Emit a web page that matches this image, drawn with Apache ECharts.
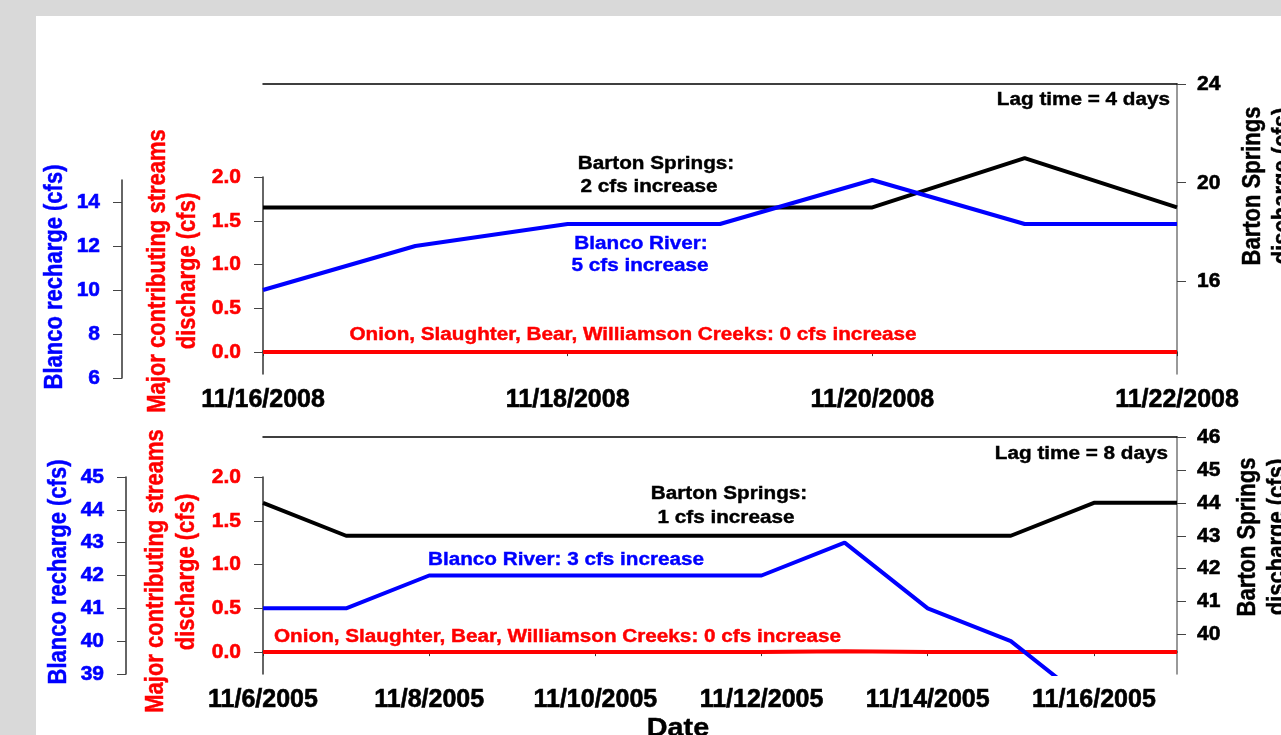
<!DOCTYPE html>
<html>
<head>
<meta charset="utf-8">
<script src="https://cdn.jsdelivr.net/npm/echarts@6/dist/echarts.min.js"></script>
<style>
  html, body { margin: 0; padding: 0; background: #d9d9d9; }
  #panel { position: absolute; left: 36px; top: 16px; width: 1245px; height: 719px; background: #fff; }
  #chart { position: absolute; left: 0; top: 0; width: 1281px; height: 735px; }
</style>
</head>
<body>
<div id="panel"></div>
<div id="chart"></div>
<script>
// top panel: 2008 event, lag 4 days
const datesTop = ['11/16/2008', '11/17/2008', '11/18/2008', '11/19/2008', '11/20/2008', '11/21/2008', '11/22/2008']
const blancoTop = [10, 12, 13, 13, 15, 13, 13]
const bartonTop = [19, 19, 19, 19, 19, 21, 19]
const creeksTop = [0, 0, 0, 0, 0, 0, 0]

// bottom panel: 2005 event, lag 8 days
const datesBottom = ['11/6/2005', '11/7/2005', '11/8/2005', '11/9/2005', '11/10/2005', '11/11/2005',
  '11/12/2005', '11/13/2005', '11/14/2005', '11/15/2005', '11/16/2005', '11/17/2005']
const blancoBottom = [41, 41, 42, 42, 42, 42, 42, 43, 41, 40, 38, null]
const bartonBottom = [44, 43, 43, 43, 43, 43, 43, 43, 43, 43, 44, 44]
const creeksBottom = [0, 0, 0, 0, 0, 0, 0, 0.01, 0, 0, 0, 0]

// tick labels
const creekTicks = [0, 0.5, 1, 1.5, 2]
const blancoTicksTop = [6, 8, 10, 12, 14]
const bartonTicksTop = [16, 20, 24]
const blancoTicksBottom = [39, 40, 41, 42, 43, 44, 45]
const bartonTicksBottom = [40, 41, 42, 43, 44, 45, 46]

const W = 1281
const H = 735
const FONT = '"Liberation Sans", Arial, sans-serif'
const BLUE = '#0000ff'
const RED = '#ff0000'

const chart = echarts.init(document.getElementById('chart'))

function grid(top, bottom) {
  return { left: 263, right: W - 1177, top: top, height: bottom - top }
}

// x axis, only the date axes get labels
function xAxis(i, dates, kind) {
  let ax = {
    type: 'category', gridIndex: i, data: dates, boundaryGap: false,
    axisLine: { show: false }, axisTick: { show: false }, axisLabel: { show: false },
    splitLine: { show: false },
  }
  if (kind === 'date') {
    ax.axisLine = { show: true, lineStyle: { color: '#111', width: 1.5 } }
    ax.axisTick = { show: true, interval: 1, length: 4, lineStyle: { color: '#333' } }
    ax.axisLabel = {
      show: true, interval: 1, margin: 14, color: '#000',
      fontSize: 25, fontWeight: 'bold', fontFamily: FONT,
      textBorderColor: '#000', textBorderWidth: 0.6,
    }
  }
  if (kind === 'top') {
    ax.position = 'top'
    ax.axisLine = { show: true, onZero: false, lineStyle: { color: '#000', width: 1.5 } }
  }
  return ax
}

function yAxis(i, min, max, ticks, color, position, offset, fmt) {
  return {
    type: 'value', gridIndex: i, min: min, max: max, position: position, offset: offset || 0,
    axisLine: { show: true, onZero: false, lineStyle: { color: position === 'right' ? '#777' : '#333', width: 1.5 } },
    axisTick: { show: true, length: 9, customValues: ticks, lineStyle: { color: '#444' } },
    axisLabel: {
      customValues: ticks, margin: position === 'right' ? 20 : 22, color: color,
      fontSize: 21, fontWeight: 'bold', fontFamily: FONT, formatter: fmt,
      textBorderColor: color, textBorderWidth: 0.6,
    },
    splitLine: { show: false },
  }
}

function line(i, data, color) {
  return {
    type: 'line', xAxisIndex: i, yAxisIndex: i, data: data, symbol: 'none',
    lineStyle: { color: color, width: 4 }, itemStyle: { color: color },
    clip: true, silent: true,
  }
}

// rotated titles are widened across the text, flat notes along it
function txt(text, x, y, color, align, size, rot) {
  let t = {
    type: 'text', x: x, y: y,
    style: {
      text: text, fill: color, align: align, verticalAlign: 'middle',
      font: 'bold ' + size + 'px ' + FONT,
      stroke: color, lineWidth: 0.4,
    },
  }
  if (rot) {
    t.rotation = Math.PI / 2
    t.scaleY = 1.15
  } else {
    t.scaleX = 1.15
  }
  return t
}

const oneDec = (v) => v.toFixed(1)

let option = {
  animation: false,
  grid: [
    grid(177, 374), grid(180, 378), grid(84, 374),
    grid(477, 674), grid(477, 674), grid(437, 674),
  ],
  xAxis: [
    xAxis(0, datesTop, 'date'), xAxis(1, datesTop), xAxis(2, datesTop, 'top'),
    xAxis(3, datesBottom, 'date'), xAxis(4, datesBottom), xAxis(5, datesBottom, 'top'),
  ],
  yAxis: [
    yAxis(0, -0.25, 2, creekTicks, RED, 'left', 0, oneDec),
    yAxis(1, 6, 15, blancoTicksTop, BLUE, 'left', 263 - 122),
    yAxis(2, 12.25, 24, bartonTicksTop, '#000', 'right'),
    yAxis(3, -0.25, 2, creekTicks, RED, 'left', 0, oneDec),
    yAxis(4, 39, 45, blancoTicksBottom, BLUE, 'left', 263 - 126),
    yAxis(5, 38.8, 46, bartonTicksBottom, '#000', 'right'),
  ],
  series: [
    line(0, creeksTop, RED),
    line(2, bartonTop, '#000'),
    line(1, blancoTop, BLUE),
    line(3, creeksBottom, RED),
    line(5, bartonBottom, '#000'),
    line(4, blancoBottom, BLUE),
  ],
  graphic: [
    // axis titles
    txt('Blanco recharge (cfs)', 55, 277, BLUE, 'center', 22, true),
    txt('Major contributing streams', 158, 271, RED, 'center', 22, true),
    txt('discharge (cfs)', 188, 271, RED, 'center', 22, true),
    txt('Barton Springs', 1253, 186, '#000', 'center', 22, true),
    txt('discharge (cfs)', 1283, 186, '#000', 'center', 22, true),
    txt('Blanco recharge (cfs)', 59, 572, BLUE, 'center', 22, true),
    txt('Major contributing streams', 156, 571, RED, 'center', 22, true),
    txt('discharge (cfs)', 187, 572, RED, 'center', 22, true),
    txt('Barton Springs', 1248, 537, '#000', 'center', 22, true),
    txt('discharge (cfs)', 1278, 537, '#000', 'center', 22, true),
    // notes, top
    txt('Lag time = 4 days', 1170, 100, '#000', 'right', 18),
    txt('Barton Springs:', 656, 164, '#000', 'center', 18),
    txt('2 cfs increase', 649, 187, '#000', 'center', 18),
    txt('Blanco River:', 641, 244, BLUE, 'center', 18),
    txt('5 cfs increase', 640, 266, BLUE, 'center', 18),
    txt('Onion, Slaughter, Bear, Williamson Creeks: 0 cfs increase', 633, 335, RED, 'center', 18),
    // notes, bottom
    txt('Lag time = 8 days', 1168, 454, '#000', 'right', 18),
    txt('Barton Springs:', 729, 494, '#000', 'center', 18),
    txt('1 cfs increase', 726, 518, '#000', 'center', 18),
    txt('Blanco River: 3 cfs increase', 428, 560, BLUE, 'left', 18),
    txt('Onion, Slaughter, Bear, Williamson Creeks: 0 cfs increase', 274, 637, RED, 'left', 18),
    txt('Date', 678, 729, '#000', 'center', 25),
  ],
}
chart.setOption(option)
</script>
</body>
</html>
